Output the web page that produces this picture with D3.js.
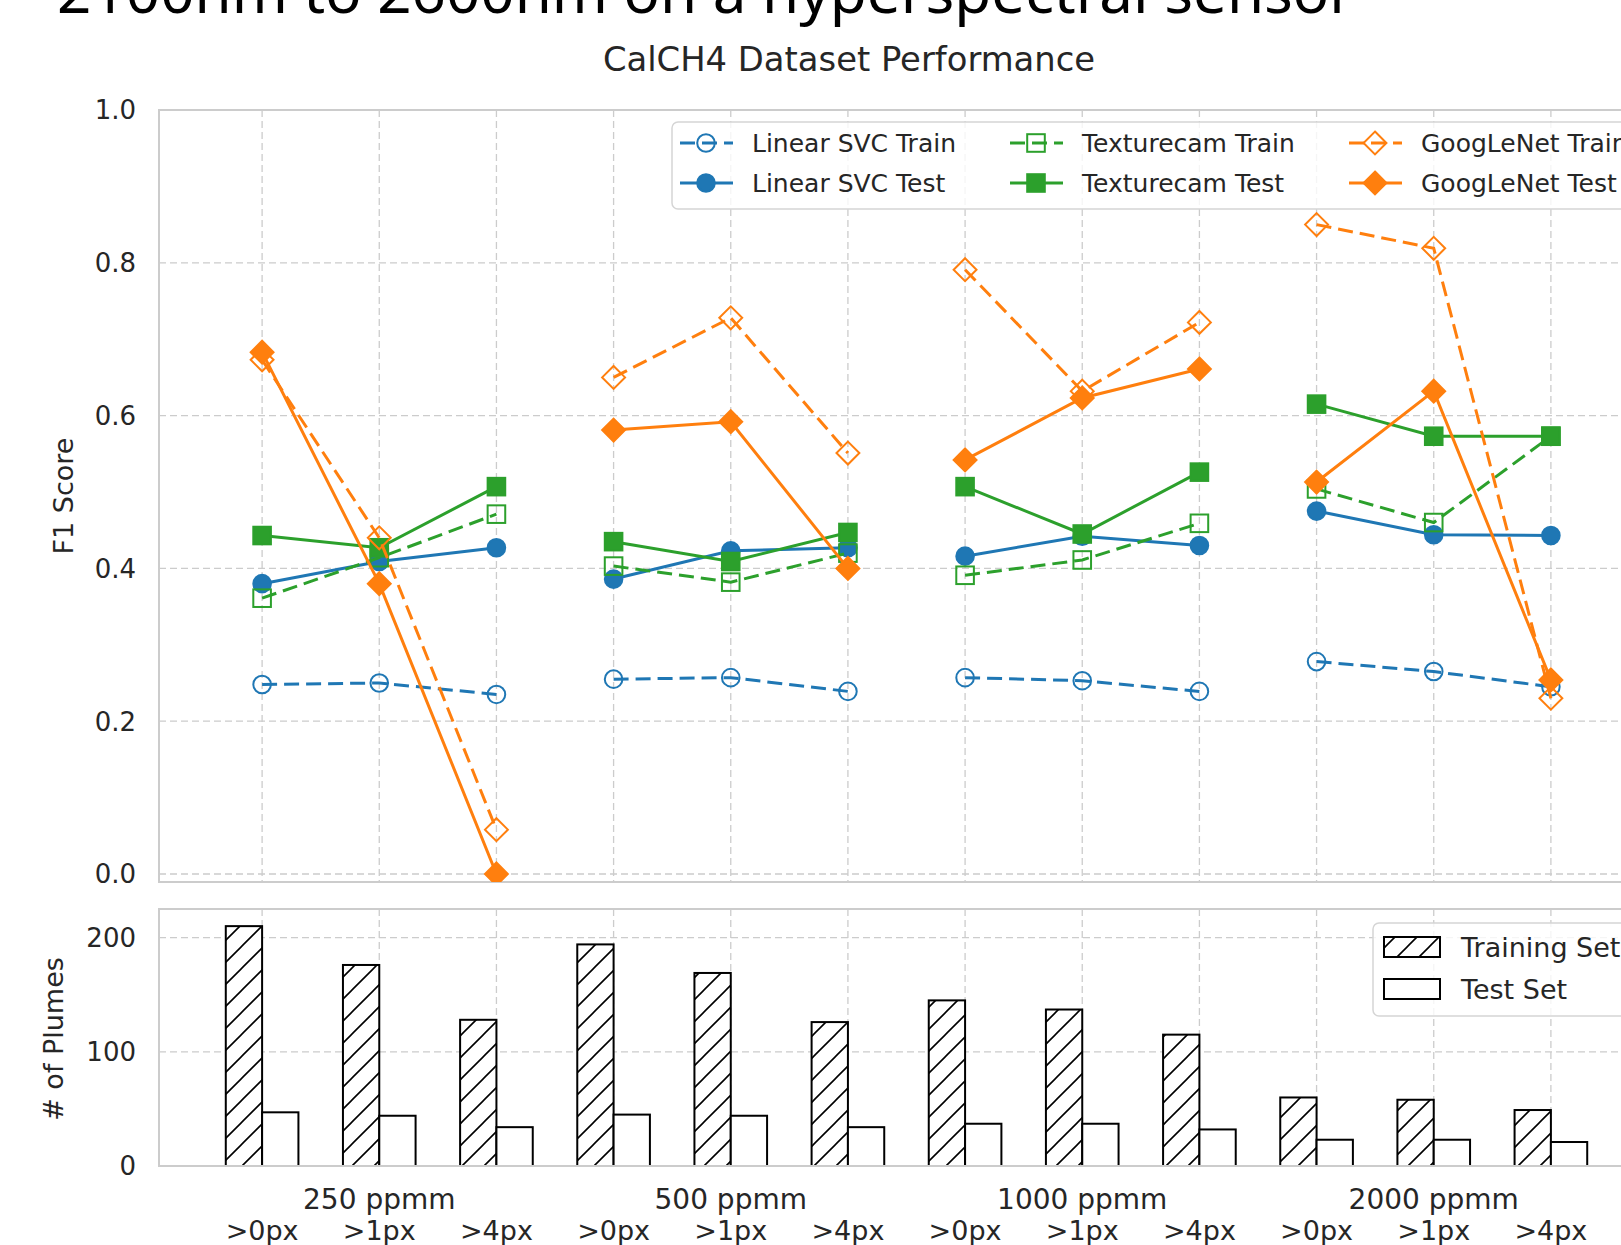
<!DOCTYPE html>
<html><head><meta charset="utf-8">
<script src="https://cdn.jsdelivr.net/npm/d3@7"></script>
<style>body{margin:0;background:#fff;overflow:hidden}svg{display:block}text{font-family:"DejaVu Sans",sans-serif}</style>
</head><body><svg id="c" width="1621" height="1245"></svg>
<script>
const groups = ["250 ppmm","500 ppmm","1000 ppmm","2000 ppmm"];
const sizes = [">0px",">1px",">4px"];
const yTicksTop = [0.0,0.2,0.4,0.6,0.8,1.0];
const yTicksBottom = [0,100,200];
// F1 scores, 12 values each (4 groups x 3 sizes)
const linearSvcTrain = [0.248,0.250,0.235, 0.255,0.257,0.239, 0.257,0.253,0.239, 0.278,0.265,0.245];
const linearSvcTest  = [0.380,0.409,0.427, 0.386,0.423,0.427, 0.416,0.442,0.430, 0.475,0.444,0.443];
const texturecamTrain= [0.361,0.414,0.471, 0.403,0.382,0.420, 0.391,0.411,0.459, 0.504,0.460,0.573];
const texturecamTest = [0.443,0.427,0.507, 0.435,0.409,0.447, 0.507,0.445,0.526, 0.615,0.573,0.573];
const googLeNetTrain = [0.673,0.440,0.058, 0.650,0.728,0.551, 0.791,0.632,0.722, 0.850,0.819,0.230];
const googLeNetTest  = [0.683,0.380,0.000, 0.581,0.592,0.400, 0.542,0.623,0.661, 0.513,0.632,0.254];
// plume counts
const trainingSet = [210,176,128, 194,169,126, 145,137,115, 60,58,49];
const testSet     = [47,44,34, 45,44,34, 37,37,32, 23,23,21];

const series = [
  {name:"Linear SVC Train", values:linearSvcTrain, color:"#1f77b4", dash:true, marker:"circle", fill:false},
  {name:"Linear SVC Test", values:linearSvcTest, color:"#1f77b4", dash:false, marker:"circle", fill:true},
  {name:"Texturecam Train", values:texturecamTrain, color:"#2ca02c", dash:true, marker:"square", fill:false},
  {name:"Texturecam Test", values:texturecamTest, color:"#2ca02c", dash:false, marker:"square", fill:true},
  {name:"GoogLeNet Train", values:googLeNetTrain, color:"#ff7f0e", dash:true, marker:"diamond", fill:false},
  {name:"GoogLeNet Test", values:googLeNetTest, color:"#ff7f0e", dash:false, marker:"diamond", fill:true}
];

const svg = d3.select("#c");
const TXT = "#262626", GRID = "#cccccc";
const n = groups.length*sizes.length;
const x = d3.scaleLinear().domain([-0.88, n-1+0.88]).range([159, 1654]);
const yT = d3.scaleLinear().domain([-0.0105, 1.0]).range([882, 110]);
const yB = d3.scaleLinear().domain([0, 225]).range([1166, 909]);

const defs = svg.append("defs");
defs.append("clipPath").attr("id","clipT").append("rect").attr("x",159).attr("y",110).attr("width",1495).attr("height",772);
const pat = defs.append("pattern").attr("id","hatch").attr("patternUnits","userSpaceOnUse").attr("width",22).attr("height",22);
pat.append("rect").attr("width",22).attr("height",22).attr("fill","#fff");
pat.append("path").attr("d","M-2,24 L24,-2 M-6,6 L6,-6 M16,28 L28,16").attr("stroke","#000").attr("stroke-width",1.6);

// overflow text at top (cut off by the page edge, as in the source)
svg.append("text").attr("x",57).attr("y",13).attr("font-size",58).attr("fill","#000")
  .style("font-family","'Noto Sans',sans-serif")
  .attr("textLength",1297).attr("lengthAdjust","spacingAndGlyphs")
  .text("2100nm to 2600nm on a hyperspectral sensor");

// title
svg.append("text").attr("x",849).attr("y",71).attr("text-anchor","middle").attr("font-size",33.8).attr("fill",TXT)
  .text("CalCH4 Dataset Performance");

const idx = d3.range(n);
function panel(yS, ticks, top, bottom, fmt){
  const g = svg.append("g");
  g.append("g").selectAll("line").data(ticks).join("line")
    .attr("x1",159).attr("x2",1654).attr("y1",d=>yS(d)).attr("y2",d=>yS(d))
    .attr("stroke",GRID).attr("stroke-width",1.3).attr("stroke-dasharray","7,4");
  g.append("g").selectAll("line").data(idx).join("line")
    .attr("x1",d=>x(d)).attr("x2",d=>x(d)).attr("y1",top).attr("y2",bottom)
    .attr("stroke",GRID).attr("stroke-width",1.3).attr("stroke-dasharray","7,4");
  g.append("g").selectAll("text").data(ticks).join("text")
    .attr("x",136).attr("y",d=>yS(d)).attr("dy","0.36em").attr("text-anchor","end")
    .attr("font-size",26).attr("fill",TXT).text(fmt);
  return g;
}
panel(yT, yTicksTop, 110, 882, d=>d.toFixed(1));
panel(yB, yTicksBottom, 909, 1166, d=>String(d));

// bars
const bw = 0.31;
const bars = svg.append("g");
bars.selectAll("rect.tr").data(trainingSet).join("rect").attr("class","tr")
  .attr("x",(d,i)=>x(i-bw)).attr("width",x(bw)-x(0)).attr("y",d=>yB(d)).attr("height",d=>yB(0)-yB(d))
  .attr("fill","url(#hatch)").attr("stroke","#000").attr("stroke-width",2);
bars.selectAll("rect.te").data(testSet).join("rect").attr("class","te")
  .attr("x",(d,i)=>x(i)).attr("width",x(bw)-x(0)).attr("y",d=>yB(d)).attr("height",d=>yB(0)-yB(d))
  .attr("fill","#fff").attr("stroke","#000").attr("stroke-width",2);

// spines
[[110,882],[909,1166]].forEach(([t,b])=>{
  svg.append("rect").attr("x",159).attr("y",t).attr("width",1600).attr("height",b-t)
    .attr("fill","none").attr("stroke",GRID).attr("stroke-width",2);
});

// markers
function marker(sel, type, r){
  if(type==="circle") sel.append("circle").attr("r",r);
  else if(type==="square") sel.append("rect").attr("x",-r).attr("y",-r).attr("width",2*r).attr("height",2*r);
  else sel.append("path").attr("d",`M0,${-r*1.3}L${r*1.3},0L0,${r*1.3}L${-r*1.3},0Z`);
}
const lines = svg.append("g").attr("clip-path","url(#clipT)");
series.forEach(s=>{
  const gs = lines.append("g");
  for(let gi=0; gi<groups.length; gi++){
    const pts = d3.range(gi*3, gi*3+3);
    gs.append("path").datum(pts)
      .attr("d", d3.line().x(i=>x(i)).y(i=>yT(s.values[i])))
      .attr("fill","none").attr("stroke",s.color).attr("stroke-width",3)
      .attr("stroke-dasharray", s.dash ? "15,7" : null);
  }
  const pts = gs.selectAll("g.m").data(idx).join("g").attr("class","m")
    .attr("transform",i=>`translate(${x(i)},${yT(s.values[i])})`);
  pts.each(function(){ marker(d3.select(this), s.marker, 8.8); });
  pts.selectAll("*").attr("fill", s.fill ? s.color : "none").attr("stroke", s.color).attr("stroke-width",2);
});

// top legend
const lg = svg.append("g");
lg.append("rect").attr("x",672).attr("y",122).attr("width",1100).attr("height",87).attr("rx",6)
  .attr("fill","#fff").attr("fill-opacity",0.8).attr("stroke","#d5d5d5").attr("stroke-width",1.5);
const colX = [706, 1036, 1375];
series.forEach((s,k)=>{
  const cx = colX[Math.floor(k/2)], cy = k%2===0 ? 143 : 183;
  const e = lg.append("g").attr("transform",`translate(${cx},${cy})`);
  e.append("line").attr("x1",-26).attr("x2",27).attr("stroke",s.color).attr("stroke-width",3)
    .attr("stroke-dasharray", s.dash ? "15,7" : null);
  const m = e.append("g"); marker(m, s.marker, 8.8);
  m.selectAll("*").attr("fill", s.fill ? s.color : "none").attr("stroke", s.color).attr("stroke-width",2);
  e.append("text").attr("x",46).attr("dy","0.36em").attr("font-size",25).attr("fill",TXT).text(s.name);
});

// bottom legend
const bl = svg.append("g");
bl.append("rect").attr("x",1373).attr("y",923).attr("width",400).attr("height",93).attr("rx",6)
  .attr("fill","#fff").attr("fill-opacity",0.8).attr("stroke","#d5d5d5").attr("stroke-width",1.5);
[["Training Set","url(#hatch)",947],["Test Set","#fff",989]].forEach(([t,f,cy])=>{
  bl.append("rect").attr("x",1384).attr("y",cy-10).attr("width",56).attr("height",20)
    .attr("fill",f).attr("stroke","#000").attr("stroke-width",2);
  bl.append("text").attr("x",1461).attr("y",cy).attr("dy","0.36em").attr("font-size",27).attr("fill",TXT).text(t);
});

// x labels
svg.append("g").selectAll("text").data(groups).join("text")
  .attr("x",(d,i)=>x(i*3+1)).attr("y",1209).attr("text-anchor","middle").attr("font-size",28).attr("fill",TXT).text(d=>d);
svg.append("g").selectAll("text").data(idx).join("text")
  .attr("x",i=>x(i)).attr("y",1240).attr("text-anchor","middle").attr("font-size",27).attr("fill",TXT).text(i=>sizes[i%3]);

// axis titles
svg.append("text").attr("transform","translate(73,496) rotate(-90)").attr("text-anchor","middle")
  .attr("font-size",27).attr("fill",TXT).text("F1 Score");
svg.append("text").attr("transform","translate(63,1039) rotate(-90)").attr("text-anchor","middle")
  .attr("font-size",27).attr("fill",TXT).text("# of Plumes");
</script></body></html>
